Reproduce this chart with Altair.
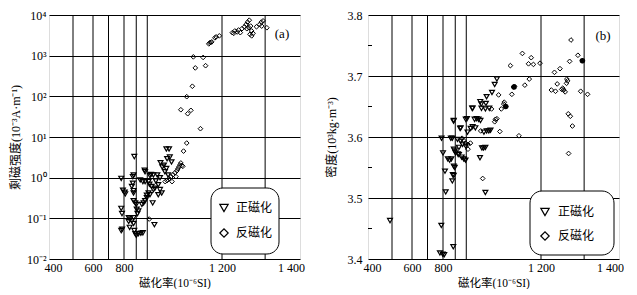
import altair as alt
import pandas as pd

# ---------------- shared x axis (magnetic susceptibility) ----------------
x_ticks = [400, 600, 800, 1200, 1400]
x_tick_labels = ["400", "600", "800", "1 200", "1 400"]
x_grid = [500, 600, 700, 800, 850, 895, 1200, 1325]
x_title = "磁化率(10⁻⁶SI)"
# the printed axis is not linear: breakpoints of the (piecewise) scale
x_breaks = [390, 400, 600, 800, 1200, 1400, 1430]

# ---------------- panel (a): remanence ----------------
a_y_ticks = [0.01, 0.1, 1, 10, 100, 1000, 10000]
a_y_labels = ["10⁻²", "10⁻¹", "10⁰", "10¹", "10²", "10³", "10⁴"]
a_y_title = "剩磁强度(10⁻³A·m⁻¹)"

a_pos_x = [782, 793, 803, 805, 836, 839, 836, 832, 839, 839,
           842, 884, 886, 866, 877, 886, 900, 910, 920, 906,
           904, 913, 920, 926, 936, 947, 930, 949, 956, 963,
           973, 984, 976, 987, 994, 967, 973, 980, 940, 947,
           954, 940, 893, 886, 880, 873, 900, 906, 893, 917,
           839, 846, 850, 852, 859, 855, 782, 787, 819, 825,
           832, 839, 819, 839, 823, 788, 782, 842, 846, 850,
           859, 869, 877, 924]
a_pos_y = [0.96, 0.49, 0.44, 0.40, 1.06, 1.16, 0.73, 0.61, 0.48, 0.42,
           3.3, 1.53, 1.40, 0.88, 0.80, 0.80, 0.80, 1.20, 1.16, 1.12,
           0.69, 0.61, 0.51, 0.55, 1.16, 1.0, 0.83, 2.34, 1.84, 2.02,
           5.08, 5.08, 2.92, 3.21, 2.43, 1.40, 1.68, 1.16, 0.67, 0.51,
           0.42, 0.38, 0.32, 0.27, 0.24, 0.22, 0.42, 0.38, 0.37, 0.24,
           0.27, 0.24, 0.22, 0.167, 0.152, 0.131, 0.176, 0.131, 0.104, 0.096,
           0.087, 0.104, 0.084, 0.075, 0.060, 0.054, 0.050, 0.050, 0.042, 0.038,
           0.042, 0.043, 0.044, 0.070]

a_neg_x = [1056, 1043, 1036, 1040, 1032, 1028, 1024, 1020, 1016, 1008,
           1000, 992, 984, 976, 996, 968, 1012, 903,
           1083, 1123, 1091, 1133, 1079, 1056, 1032, 1060, 1073, 1112,
           1146, 1150, 1154, 1158, 1171, 1176, 1189, 1230, 1234, 1237,
           1244, 1248, 1253, 1258, 1265, 1270, 1272, 1274, 1278, 1279,
           1281, 1283, 1286, 1286, 1290, 1300, 1309, 1314, 1315, 1319, 1330]
a_neg_y = [7.1, 4.5, 2.0, 1.9, 2.30, 2.06, 1.84, 1.65, 1.48, 1.32,
           1.18, 1.06, 0.95, 0.85, 0.80, 0.80, 1.06, 0.096,
           935, 905, 500, 567, 177, 98, 46.8, 37.4, 45.2, 16.0,
           1950, 2060, 2110, 2180, 2750, 2900, 3070, 3680, 3540, 4050,
           3830, 4280, 3680, 4600, 5140, 5830, 4600, 6670, 4860, 7450,
           3350, 5340, 4050, 3070, 3540, 5140, 5830, 6670, 5340, 7170, 4860]

# ---------------- panel (b): density ----------------
b_y_ticks = [3.4, 3.5, 3.6, 3.7, 3.8]
b_minor_ticks = [3.45, 3.55, 3.65, 3.75]
b_y_title = "密度(10³kg·m⁻³)"

b_pos_x = [490, 789, 842, 780, 798, 805, 800, 808, 811, 844,
           838, 820, 827, 834, 844, 848, 840, 844, 838, 844,
           848, 851, 861, 872, 865, 876, 885, 892, 898, 921,
           921, 932, 929, 937, 945, 953, 952, 956, 957, 973,
           989, 978, 1000, 1011, 1020, 951, 959, 966, 973, 973,
           967, 978, 987, 994, 893, 843, 870, 913, 900, 975,
           919, 832, 859, 872, 880, 893, 865, 791]
b_pos_y = [3.463, 3.455, 3.420, 3.410, 3.408, 3.407, 3.574, 3.544, 3.510, 3.627,
           3.598, 3.564, 3.562, 3.564, 3.552, 3.550, 3.538, 3.537, 3.528, 3.580,
           3.577, 3.574, 3.572, 3.615, 3.571, 3.567, 3.564, 3.562, 3.630, 3.647,
           3.617, 3.615, 3.629, 3.630, 3.629, 3.627, 3.658, 3.654, 3.647, 3.646,
           3.647, 3.666, 3.673, 3.686, 3.695, 3.566, 3.582, 3.582, 3.583, 3.509,
           3.608, 3.610, 3.610, 3.611, 3.629, 3.626, 3.614, 3.614, 3.608, 3.655,
           3.647, 3.598, 3.596, 3.593, 3.588, 3.585, 3.583, 3.598]

b_neg_x = [1287, 1307, 1320, 1283, 1255, 1239, 1275, 1277, 1274, 1247,
           1230, 1242, 1263, 1266, 1260, 1270, 1315, 1335, 1279, 1285,
           1291, 1280, 1110, 1124, 1160, 1149, 1169, 1196, 1152, 1134,
           1088, 1092, 1075, 1081, 1050, 1048, 1056, 1038, 1020, 1014,
           1011, 1032, 998, 1027, 878, 885, 892, 902, 912, 888,
           902, 962, 954]
b_neg_y = [3.759, 3.734, 3.725, 3.724, 3.712, 3.706, 3.695, 3.692, 3.688, 3.687,
           3.677, 3.675, 3.680, 3.677, 3.678, 3.674, 3.675, 3.670, 3.638, 3.634,
           3.618, 3.573, 3.602, 3.737, 3.730, 3.720, 3.719, 3.721, 3.695, 3.685,
           3.682, 3.683, 3.717, 3.670, 3.657, 3.654, 3.650, 3.646, 3.630, 3.629,
           3.625, 3.609, 3.646, 3.669, 3.598, 3.594, 3.590, 3.588, 3.590, 3.564,
           3.580, 3.532, 3.610]
# samples printed as solid dots
b_solid_x = [1320, 1090, 1056]
b_solid_y = [3.725, 3.682, 3.650]

legend_labels = ["正磁化", "反磁化"]
panel_labels = ["(a)", "(b)"]

# ---------------- styling ----------------
FONT = "Liberation Serif, Noto Sans CJK SC"
W, H = 251, 244
X_RANGE = [0, 4, 44, 75, 173, 242, 251]


def label_expr(ticks, labels):
    expr = "''"
    for t, l in reversed(list(zip(ticks, labels))):
        expr = f"abs(datum.value - {t}) < {abs(t) * 1e-6} ? '{l}' : ({expr})"
    return expr


def x_enc():
    return alt.X(
        "x:Q",
        scale=alt.Scale(domain=x_breaks, range=X_RANGE, nice=False, zero=False),
        axis=alt.Axis(values=x_ticks, labelExpr=label_expr(x_ticks, x_tick_labels),
                      grid=False, ticks=False, domain=False, labelPadding=3,
                      labelFont=FONT, labelFontSize=12, labelColor="black",
                      labelFlush=False, labelOverlap=False,
                      title=x_title, titleFont=FONT, titleFontSize=11.5,
                      titleFontWeight="normal", titleColor="black", titlePadding=4),
    )


def y_axis(ticks, labels, title, lab_pad, title_pad):
    return alt.Axis(values=ticks, labelExpr=label_expr(ticks, labels),
                    grid=True, gridColor="black", gridOpacity=1, gridWidth=1,
                    ticks=False, domain=False, labelPadding=lab_pad,
                    labelFont=FONT, labelFontSize=12, labelColor="black",
                    labelFlush=False, labelOverlap=False,
                    title=title, titleFont=FONT, titleFontSize=12,
                    titleFontWeight="normal", titleColor="black", titlePadding=title_pad)


def panel(pos_x, pos_y, neg_x, neg_y, yscale, yaxis, box, label, label_pos,
          minor=None, solid=None):
    xgrid = alt.Chart(pd.DataFrame({"x": x_grid})).mark_rule(
        color="black", strokeWidth=1).encode(x=x_enc())

    pos = pd.DataFrame({"x": pos_x, "y": pos_y})
    neg = pd.DataFrame({"x": neg_x, "y": neg_y})
    yenc = alt.Y("y:Q", scale=yscale, axis=yaxis)

    tri = alt.Chart(pos).mark_point(shape="triangle-down", filled=False, stroke="black",
                                    strokeWidth=1.2, size=24, opacity=1).encode(x=x_enc(), y=yenc)
    dia = alt.Chart(neg).mark_point(shape="diamond", filled=False, stroke="black",
                                    strokeWidth=1, size=22, opacity=1).encode(x=x_enc(), y=yenc)
    layers = [xgrid, tri, dia]
    if solid is not None:
        sol = pd.DataFrame({"x": solid[0], "y": solid[1]})
        layers.append(alt.Chart(sol).mark_point(shape="circle", filled=True, color="black",
                                                size=30, opacity=1).encode(x=x_enc(), y=yenc))
    if minor is not None:
        mdf = pd.DataFrame({"y": minor})
        layers.append(alt.Chart(mdf).mark_rule(color="black", strokeWidth=1).encode(
            y=alt.Y("y:Q", scale=yscale, axis=yaxis), x=alt.value(0), x2=alt.value(4)))

    one = alt.Data(values=[{}])
    bx0, bx1, by0, by1, sx, tx, sy1, sy2 = box
    rect = alt.Chart(one).mark_rect(fill="white", stroke="black", strokeWidth=1,
                                    cornerRadius=12).encode(
        x=alt.value(bx0), x2=alt.value(bx1), y=alt.value(by0), y2=alt.value(by1))
    s1 = alt.Chart(one).mark_point(shape="triangle-down", filled=False, stroke="black",
                                   strokeWidth=1.2, size=70, opacity=1).encode(
        x=alt.value(sx), y=alt.value(sy1))
    s2 = alt.Chart(one).mark_point(shape="diamond", filled=False, stroke="black",
                                   strokeWidth=1.2, size=70, opacity=1).encode(
        x=alt.value(sx), y=alt.value(sy2))
    t1 = alt.Chart(one).mark_text(text=legend_labels[0], font=FONT, fontSize=12, align="left",
                                  baseline="middle", color="black").encode(
        x=alt.value(tx), y=alt.value(sy1))
    t2 = alt.Chart(one).mark_text(text=legend_labels[1], font=FONT, fontSize=12, align="left",
                                  baseline="middle", color="black").encode(
        x=alt.value(tx), y=alt.value(sy2))
    lab = alt.Chart(one).mark_text(text=label, font=FONT, fontSize=13, align="center",
                                   baseline="middle", color="black").encode(
        x=alt.value(label_pos[0]), y=alt.value(label_pos[1]))
    layers += [rect, s1, s2, t1, t2, lab]
    return alt.layer(*layers).properties(width=W, height=H)


pa = panel(a_pos_x, a_pos_y, a_neg_x, a_neg_y,
           alt.Scale(type="log", domain=[0.01, 10000], nice=False),
           y_axis(a_y_ticks, a_y_labels, a_y_title, 3, 4),
           (162, 230, 173, 239, 175, 187, 193, 218), panel_labels[0], (233, 19))
pb = panel(b_pos_x, b_pos_y, b_neg_x, b_neg_y,
           alt.Scale(domain=[3.4, 3.8], nice=False, zero=False),
           y_axis(b_y_ticks, [f"{v:.1f}" for v in b_y_ticks], b_y_title, 6, 9),
           (162, 246, 176, 240, 177, 190, 197, 221), panel_labels[1], (235, 21),
           minor=b_minor_ticks, solid=(b_solid_x, b_solid_y))

chart = alt.hconcat(pa, pb, spacing=19).properties(padding=0).configure_view(
    stroke="black", strokeWidth=1).configure(background="white")

chart.save("out.html", embed_options={"renderer": "svg", "actions": False})
